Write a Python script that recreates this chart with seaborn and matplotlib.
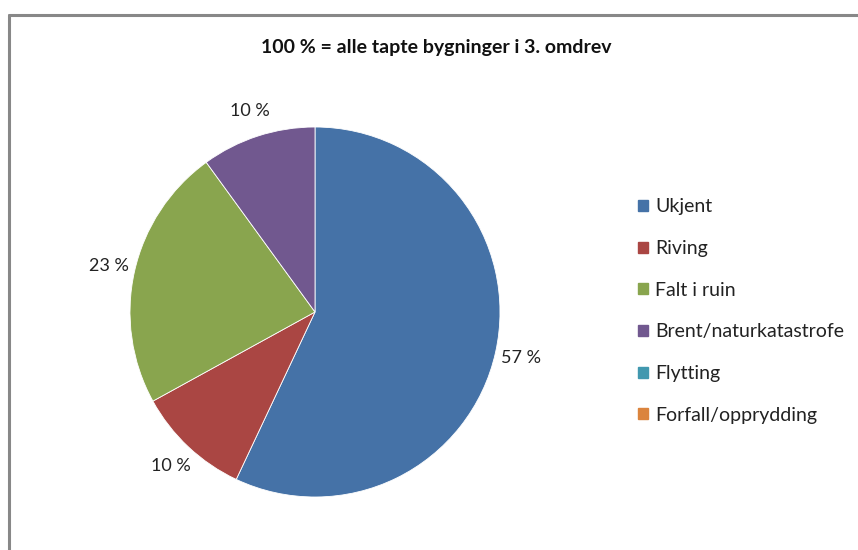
import matplotlib
matplotlib.use("Agg")
import matplotlib.pyplot as plt
from matplotlib.lines import Line2D
from matplotlib.patches import Patch
import seaborn as sns
import numpy as np

categories = ["Ukjent", "Riving", "Falt i ruin", "Brent/naturkatastrofe", "Flytting", "Forfall/opprydding"]
values = [57, 10, 23, 10, 0, 0]
colors = ["#4572A7", "#AA4643", "#89A54E", "#71588F", "#4198AF", "#DB843D"]
title = "100 % = alle tapte bygninger i 3. omdrev"

sns.set_theme(style="white")
plt.rcParams['font.family'] = ['Lato', 'DejaVu Sans']

W, H = 858, 550
fig = plt.figure(figsize=(W/100, H/100), dpi=100)

cx, cy, r = 315, 312, 185
ax = fig.add_axes([(cx - r)/W, (H - cy - r)/H, 2*r/W, 2*r/H])

nz = [(v, c) for v, c in zip(values, colors) if v > 0]
wedges, texts = ax.pie([v for v, _ in nz], colors=[c for _, c in nz],
                       startangle=90, counterclock=False,
                       labels=[f"{v} %" for v, _ in nz], labeldistance=1.14,
                       wedgeprops=dict(linewidth=0.6, edgecolor="white"),
                       textprops=dict(fontsize=13, color="#222222"))
for t in texts:
    t.set_ha("center")
ax.set_aspect("equal")
ax.set_xlim(-1, 1); ax.set_ylim(-1, 1)

fig.text(436/W, 1 - 48/H, title, ha="center", va="center",
         fontsize=14, fontweight="bold", color="#111111")

handles = [Patch(facecolor=c, edgecolor=c) for c in colors]
leg = fig.legend(handles, categories, loc="center left",
                 bbox_to_anchor=(630/W, 1 - 311/H), frameon=False,
                 fontsize=14, handlelength=0.5, handleheight=0.5,
                 handletextpad=0.4, labelspacing=1.27, borderaxespad=0)
for t in leg.get_texts():
    t.set_color("#222222")

fig.add_artist(Line2D([8.5/W, 8.5/W], [0, 1 - 15/H], color="#888888", lw=2.2))
fig.add_artist(Line2D([8.5/W, 1], [1 - 15/H, 1 - 15/H], color="#888888", lw=2.2))

fig.savefig("out.png", dpi=100)
